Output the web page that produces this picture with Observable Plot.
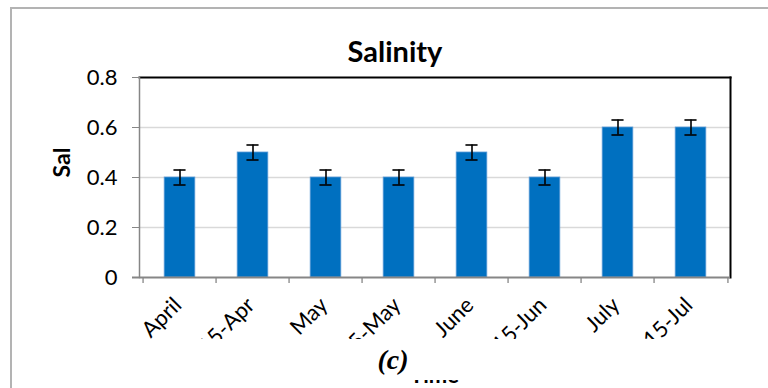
<!DOCTYPE html>
<html>
<head>
<meta charset="utf-8">
<script src="https://cdn.jsdelivr.net/npm/d3@7"></script>
<script src="https://cdn.jsdelivr.net/npm/@observablehq/plot@0.6"></script>
<style>
  body { margin: 0; background: #fff; }
  #wrap { position: relative; width: 768px; height: 388px; overflow: hidden; background: #fff; }
  #wrap svg { position: absolute; left: 0; top: 0; }
  .ov { position: absolute; }
</style>
</head>
<body>
<div id="wrap"></div>
<script>
const categories = ["April", "15-Apr", "May", "15-May", "June", "15-Jun", "July", "15-Jul"];
const salinity = [0.4, 0.5, 0.4, 0.4, 0.5, 0.4, 0.6, 0.6];
const errors = [0.03, 0.03, 0.03, 0.03, 0.03, 0.03, 0.03, 0.03];
const yTicks = [0, 0.2, 0.4, 0.6, 0.8];
const yTickLabels = ["0", "0.2", "0.4", "0.6", "0.8"];
const gridValues = [0.2, 0.4, 0.6];
const titleText = "Salinity";
const yLabel = "Sal";
const xLabel = "Time";
const panelTag = "(c)";

const W = 768, H = 388;
const mL = 139, mR = 38, mT = 77, mB = 111;
const bw = (W - mL - mR) / categories.length;
const barW = 31.5, capW = 13;

const data = categories.map((c, i) => ({cat: c, v: salinity[i], e: errors[i]}));
const font = "Lato, 'Open Sans', sans-serif";

const chart = Plot.plot({
  width: W, height: H,
  marginLeft: mL, marginRight: mR, marginTop: mT, marginBottom: mB,
  style: {fontFamily: font, background: "transparent", overflow: "visible"},
  x: {domain: categories, padding: 0, axis: null},
  y: {domain: [0, 0.8], axis: null},
  marks: [
    Plot.ruleY(gridValues, {stroke: "#d9d9d9", strokeWidth: 1.3}),
    Plot.barY(data, {x: "cat", y: "v", fill: "#0070C0", stroke: "#5a9ad6", strokeWidth: 0.8,
      insetLeft: (bw - barW) / 2, insetRight: (bw - barW) / 2}),
    Plot.ruleX(data, {x: "cat", y1: d => d.v - d.e, y2: d => d.v + d.e, stroke: "#000", strokeWidth: 1.6}),
    Plot.tickY(data, {x: "cat", y: d => d.v + d.e, stroke: "#000", strokeWidth: 1.6,
      insetLeft: (bw - capW) / 2, insetRight: (bw - capW) / 2}),
    Plot.tickY(data, {x: "cat", y: d => d.v - d.e, stroke: "#000", strokeWidth: 1.6,
      insetLeft: (bw - capW) / 2, insetRight: (bw - capW) / 2}),
    Plot.frame({anchor: "top", stroke: "#000", strokeWidth: 2}),
    Plot.frame({anchor: "right", stroke: "#000", strokeWidth: 2}),
    Plot.frame({anchor: "left", stroke: "#868686", strokeWidth: 1.5}),
    Plot.ruleY([0], {stroke: "#868686", strokeWidth: 2.2, insetLeft: -7}),
    Plot.ruleX(categories, {x: d => d, y1: 0, y2: 0, dx: -bw / 2, insetBottom: -6, stroke: "#868686", strokeWidth: 1.3}),
    Plot.ruleX([categories[categories.length - 1]], {x: d => d, y1: 0, y2: 0, dx: bw / 2, insetBottom: -6, stroke: "#868686", strokeWidth: 1.3}),
    Plot.axisY({ticks: yTicks, tickFormat: (d, i) => yTickLabels[i], tickSize: 7, tickPadding: 15,
      fontSize: 22, stroke: "#868686", fill: "#000", label: null}),
    Plot.text(categories, {x: d => d, y: 0, text: d => d, rotate: -45, textAnchor: "end",
      dx: -2, dy: 24, fontSize: 22, fill: "#000"}),
    Plot.text([titleText], {frameAnchor: "top", text: d => d, dx: -40, dy: -36, fontSize: 29, fontWeight: "bold", fill: "#000"}),
    Plot.text([yLabel], {frameAnchor: "left", text: d => d, rotate: -90, dx: -77, fontSize: 23, fontWeight: "bold", fill: "#000"})
  ]
});

const wrap = document.getElementById("wrap");
wrap.appendChild(chart);

function ov(html, css) {
  const d = document.createElement("div");
  d.className = "ov";
  d.innerHTML = html;
  Object.assign(d.style, css);
  wrap.appendChild(d);
  return d;
}
// x-axis title (mostly hidden behind the white caption box)
ov(xLabel, {left: (mL + (W - mR)) / 2 - 60 + "px", width: "120px", textAlign: "center", top: "361px",
  font: "bold 22px " + font, lineHeight: "28px", color: "#000"});
// white caption box
ov("", {left: "13px", top: "339px", width: "770px", height: "41px", background: "#fff"});
// panel tag
ov(panelTag, {left: "343px", width: "100px", textAlign: "center", top: "344px",
  font: "bold italic 28px 'Liberation Serif', 'DejaVu Serif', serif", lineHeight: "32px", color: "#000"});
// outer chart-area border
ov("", {left: "10px", top: "6.5px", width: "800px", height: "420px", borderTop: "2px solid #b3b3b3",
  borderLeft: "2px solid #b3b3b3", boxSizing: "border-box"});
</script>
</body>
</html>
